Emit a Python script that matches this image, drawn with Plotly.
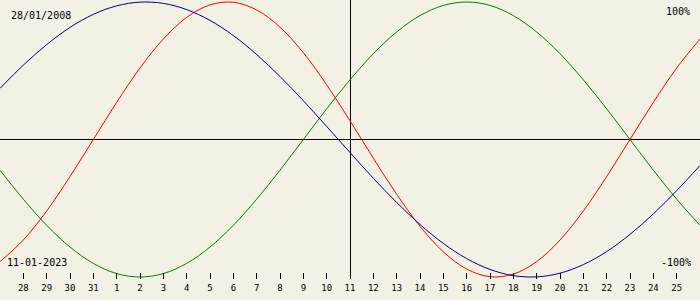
import plotly.graph_objects as go

# day offsets from "today" (11-01-2023)
offsets = list(range(-15, 16))
day_labels = ["28", "29", "30", "31", "1", "2", "3", "4", "5", "6", "7", "8", "9", "10",
              "11", "12", "13", "14", "15", "16", "17", "18", "19", "20", "21", "22", "23",
              "24", "25"]
tick_offsets = list(range(-14, 15))

physical = [-0.888, -0.731, -0.520, -0.270, 0.000, 0.270, 0.520, 0.731, 0.888, 0.979,
            0.998, 0.942, 0.817, 0.631, 0.398, 0.136, -0.136, -0.398, -0.631, -0.817,
            -0.942, -0.998, -0.979, -0.888, -0.731, -0.520, -0.270, 0.000, 0.270, 0.520,
            0.731]
emotional = [-0.223, -0.434, -0.624, -0.782, -0.901, -0.975, -1.000, -0.975, -0.901, -0.782,
             -0.624, -0.434, -0.223, 0.000, 0.223, 0.434, 0.624, 0.782, 0.901, 0.975,
             1.000, 0.975, 0.901, 0.782, 0.624, 0.434, 0.223, 0.000, -0.223, -0.434,
             -0.624]
intellectual = [0.372, 0.541, 0.690, 0.815, 0.910, 0.972, 0.999, 0.990, 0.945, 0.866,
                0.756, 0.618, 0.458, 0.282, 0.095, -0.095, -0.282, -0.458, -0.618, -0.756,
                -0.866, -0.945, -0.990, -0.999, -0.972, -0.910, -0.815, -0.690, -0.541,
                -0.372, -0.189]

bg = "#F3F0E4"
mono = "DejaVu Sans Mono"

fig = go.Figure()
for vals, col in [(emotional, "#008000"), (physical, "#FF0000"), (intellectual, "#000080")]:
    fig.add_trace(go.Scatter(x=offsets, y=vals, mode="lines",
                             line=dict(color=col, width=1, shape="spline", smoothing=1.0),
                             hoverinfo="skip", showlegend=False))

plot_h = 300 - 21
labels = [("28/01/2008", 9, 16, "left"), ("100%", 692, 12, "right"),
          ("11-01-2023", 5, 262, "left"), ("-100%", 693, 262, "right")]
annotations = [dict(text=t, x=px / 700, y=1 - py / plot_h, xref="paper", yref="paper",
                    xanchor=anc, yanchor="middle", showarrow=False,
                    font=dict(family=mono, size=10, color="black"))
               for t, px, py, anc in labels]

fig.update_layout(
    width=700, height=300,
    margin=dict(l=0, r=0, t=0, b=21, pad=0),
    paper_bgcolor=bg, plot_bgcolor=bg,
    showlegend=False,
    xaxis=dict(range=[-15, 15], showgrid=False, zeroline=True, zerolinecolor="black",
               zerolinewidth=1, showline=False, tickvals=tick_offsets, ticktext=day_labels,
               ticks="inside", ticklen=6, tickcolor="black", tickwidth=1,
               ticklabelstandoff=2,
               tickfont=dict(family=mono, size=9, color="black"), fixedrange=True),
    yaxis=dict(range=[-1.0145, 1.0145], showgrid=False, zeroline=True, zerolinecolor="black",
               zerolinewidth=1, showticklabels=False, ticks="", showline=False, fixedrange=True),
    annotations=annotations,
)

fig.write_html("out.html")
